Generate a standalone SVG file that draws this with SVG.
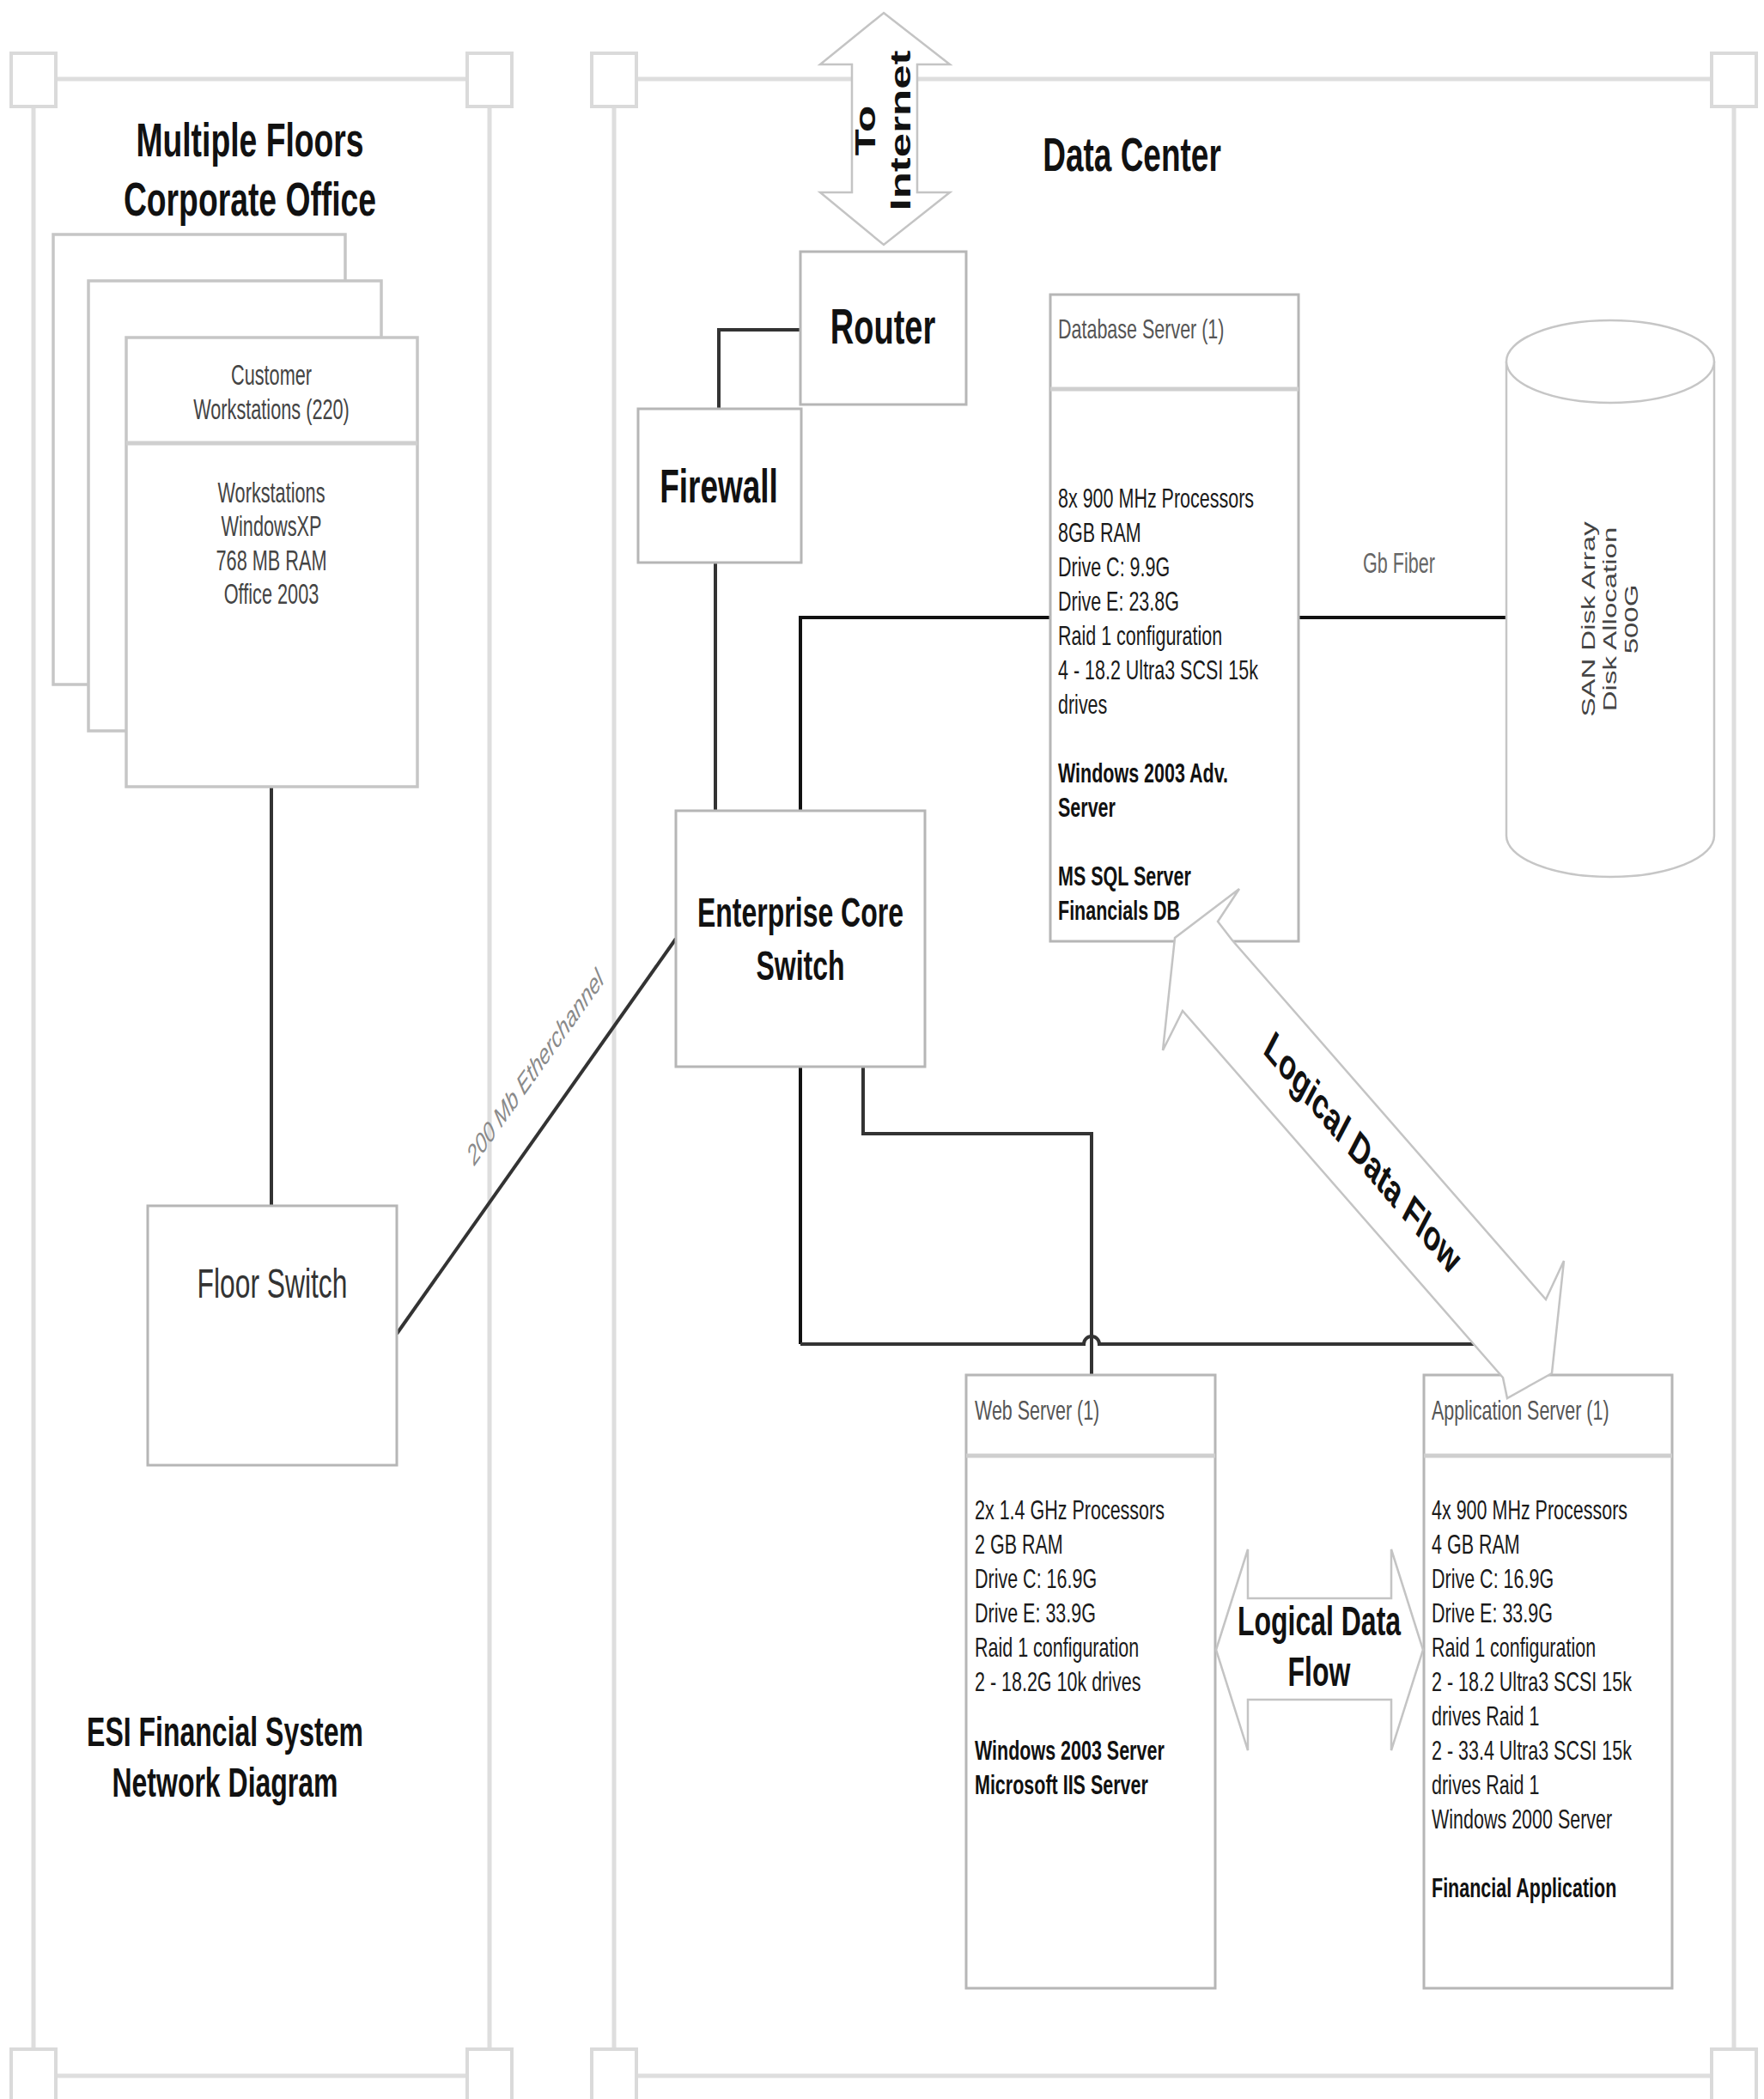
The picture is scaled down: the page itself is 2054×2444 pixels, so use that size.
<svg xmlns="http://www.w3.org/2000/svg" width="2054" height="2444" viewBox="0 0 2054 2444">
<defs>
<style>
.frame{fill:none;stroke:#dedede;stroke-width:5}
.corner{fill:#fff;stroke:#dadada;stroke-width:4}
.box{fill:#fff;stroke:#b6b6b6;stroke-width:3}
.page{fill:#fff;stroke:#c6c6c6;stroke-width:3.5}
.div{stroke:#cfcfcf;stroke-width:5}
.conn{fill:none;stroke:#333;stroke-width:4}
.dark{stroke:#111}
.blk{fill:#fff;stroke:#c4c4c4;stroke-width:2.5}
.cyl{fill:#fff;stroke:#c6c6c6;stroke-width:2.5}
text{font-family:"Liberation Sans",Arial,Helvetica,sans-serif}
.b{font-weight:bold}
.mid{text-anchor:middle}
.title{font-size:37.3px;font-weight:bold;fill:#111}
.big{font-weight:bold;fill:#111}
.srv{font-size:21.5px;fill:#1a1a1a}
.hdr{font-size:21.5px;fill:#555}
.ws{font-size:21.7px;fill:#444}
.lbl{font-size:21.6px;fill:#666}
</style>
</defs>

<g id="frames">
  <line class="frame" x1="39" y1="92" x2="570" y2="92"/>
  <line class="frame" x1="39" y1="2417" x2="570" y2="2417"/>
  <line class="frame" x1="39" y1="92" x2="39" y2="2417"/>
  <line class="frame" x1="570" y1="92" x2="570" y2="2417"/>
  <rect class="corner" x="13" y="62" width="52" height="62"/>
  <rect class="corner" x="544" y="62" width="52" height="62"/>
  <rect class="corner" x="13" y="2386" width="52" height="62"/>
  <rect class="corner" x="544" y="2386" width="52" height="62"/>
  <line class="frame" x1="715" y1="92" x2="2019" y2="92"/>
  <line class="frame" x1="715" y1="2417" x2="2019" y2="2417"/>
  <line class="frame" x1="715" y1="92" x2="715" y2="2417"/>
  <line class="frame" x1="2019" y1="92" x2="2019" y2="2417"/>
  <rect class="corner" x="689" y="62" width="52" height="62"/>
  <rect class="corner" x="1993" y="62" width="52" height="62"/>
  <rect class="corner" x="689" y="2386" width="52" height="62"/>
  <rect class="corner" x="1993" y="2386" width="52" height="62"/>
  <text class="title mid" transform="translate(291,182) scale(1,1.5)"><tspan x="0" y="0">Multiple Floors</tspan><tspan x="0" y="46.3">Corporate Office</tspan></text>
  <text class="big mid" font-size="37" transform="translate(1318,199) scale(1,1.5)">Data Center</text>
  <text class="big mid" font-size="32" fill="#222" transform="translate(262,2033) scale(1,1.5)"><tspan x="0" y="0">ESI Financial System</tspan><tspan x="0" y="39.3">Network Diagram</tspan></text>
</g>

<g id="connectors">
  <path class="conn" d="M316,916 V1404"/>
  <path class="conn" d="M462,1553 L787,1093"/>
  <text transform="translate(623,1242) scale(1,1.5) rotate(-43.3)" class="mid" font-size="22" font-style="italic" fill="#8a8a8a" y="7.7">200 Mb Etherchannel</text>
  <path class="conn" stroke="#777" d="M932,384 H837 V476"/>
  <path class="conn" stroke="#555" d="M833,655 V944"/>
  <path class="conn dark" d="M1223,719 H932 V944"/>
  <path class="conn dark" d="M1512,719 H1754"/>
  <text class="lbl mid" transform="translate(1629,667) scale(1,1.5)">Gb Fiber</text>
  <path class="conn dark" d="M932,1242 V1565"/>
  <path class="conn" stroke="#555" d="M932,1565 H1262 A9,9 0 0 1 1280,1565 H1730"/>
  <path class="conn" stroke="#555" d="M1005,1242 V1320 H1271 V1601"/>
</g>

<g id="node-workstations">
  <rect class="page" x="62" y="273" width="340" height="524"/>
  <rect class="page" x="103" y="327" width="341" height="524"/>
  <rect class="page" x="147" y="393" width="339" height="523"/>
  <line class="div" x1="147" y1="516" x2="486" y2="516"/>
  <text class="ws mid" transform="translate(316,448) scale(1,1.5)"><tspan x="0" y="0">Customer</tspan><tspan x="0" y="26.7">Workstations (220)</tspan></text>
  <text class="ws mid" transform="translate(316,585) scale(1,1.5)"><tspan x="0" y="0">Workstations</tspan><tspan x="0" y="26.2">WindowsXP</tspan><tspan x="0" y="52.4">768 MB RAM</tspan><tspan x="0" y="78.6">Office 2003</tspan></text>
</g>

<g id="node-floor-switch">
  <rect class="box" x="172" y="1404" width="290" height="302"/>
  <text class="mid" font-size="31.8" fill="#333" transform="translate(317,1511) scale(1,1.5)">Floor Switch</text>
</g>

<g id="node-router">
  <rect class="box" x="932" y="293" width="193" height="178"/>
  <text class="big mid" font-size="38" transform="translate(1028,400) scale(1,1.5)">Router</text>
</g>

<g id="node-firewall">
  <rect class="box" x="743" y="476" width="190" height="179"/>
  <text class="big mid" font-size="37" transform="translate(837,585) scale(1,1.5)">Firewall</text>
</g>

<g id="node-core-switch">
  <rect class="box" x="787" y="944" width="290" height="298"/>
  <text class="big mid" font-size="32" fill="#1a1a1a" transform="translate(932,1079) scale(1,1.5)"><tspan x="0" y="0">Enterprise Core</tspan><tspan x="0" y="41.3">Switch</tspan></text>
</g>

<g id="node-db-server">
  <rect class="box" x="1223" y="343" width="289" height="753"/>
  <line class="div" x1="1223" y1="453" x2="1512" y2="453"/>
  <text class="hdr" transform="translate(1232,394) scale(1,1.5)">Database Server (1)</text>
  <text class="srv" transform="translate(1232,591) scale(1,1.5)"><tspan x="0" y="0">8x 900 MHz Processors</tspan><tspan x="0" y="26.67">8GB RAM</tspan><tspan x="0" y="53.33">Drive C: 9.9G</tspan><tspan x="0" y="80">Drive E: 23.8G</tspan><tspan x="0" y="106.67">Raid 1 configuration</tspan><tspan x="0" y="133.33">4 - 18.2 Ultra3 SCSI 15k</tspan><tspan x="0" y="160">drives</tspan><tspan x="0" y="213.33" class="b" fill="#111">Windows 2003 Adv.</tspan><tspan x="0" y="240" class="b" fill="#111">Server</tspan><tspan x="0" y="293.33" class="b" fill="#111">MS SQL Server</tspan><tspan x="0" y="320" class="b" fill="#111">Financials DB</tspan></text>
</g>

<g id="node-san">
  <path class="cyl" d="M1754,421 V973 A121,48 0 0 0 1996,973 V421"/>
  <ellipse class="cyl" cx="1875" cy="421" rx="121" ry="48"/>
  <text class="mid" font-size="22" fill="#444" transform="translate(1875,721) scale(1,1.5) rotate(-90)"><tspan x="0" y="-18">SAN Disk Array</tspan><tspan x="0" y="7">Disk Allocation</tspan><tspan x="0" y="32">500G</tspan></text>
</g>

<g id="node-web-server">
  <rect class="box" x="1125" y="1601" width="290" height="714"/>
  <line class="div" x1="1125" y1="1695" x2="1415" y2="1695"/>
  <text class="hdr" transform="translate(1135,1653) scale(1,1.5)">Web Server (1)</text>
  <text class="srv" transform="translate(1135,1769) scale(1,1.5)"><tspan x="0" y="0">2x 1.4 GHz Processors</tspan><tspan x="0" y="26.67">2 GB RAM</tspan><tspan x="0" y="53.33">Drive C: 16.9G</tspan><tspan x="0" y="80">Drive E: 33.9G</tspan><tspan x="0" y="106.67">Raid 1 configuration</tspan><tspan x="0" y="133.33">2 - 18.2G 10k drives</tspan><tspan x="0" y="186.67" class="b" fill="#111">Windows 2003 Server</tspan><tspan x="0" y="213.33" class="b" fill="#111">Microsoft IIS Server</tspan></text>
</g>

<g id="node-app-server">
  <rect class="box" x="1658" y="1601" width="289" height="714"/>
  <line class="div" x1="1658" y1="1695" x2="1947" y2="1695"/>
  <text class="hdr" transform="translate(1667,1653) scale(1,1.5)">Application Server (1)</text>
  <text class="srv" transform="translate(1667,1769) scale(1,1.5)"><tspan x="0" y="0">4x 900 MHz Processors</tspan><tspan x="0" y="26.67">4 GB RAM</tspan><tspan x="0" y="53.33">Drive C: 16.9G</tspan><tspan x="0" y="80">Drive E: 33.9G</tspan><tspan x="0" y="106.67">Raid 1 configuration</tspan><tspan x="0" y="133.33">2 - 18.2 Ultra3 SCSI 15k</tspan><tspan x="0" y="160">drives Raid 1</tspan><tspan x="0" y="186.67">2 - 33.4 Ultra3 SCSI 15k</tspan><tspan x="0" y="213.33">drives Raid 1</tspan><tspan x="0" y="240">Windows 2000 Server</tspan><tspan x="0" y="293.33" class="b" fill="#111">Financial Application</tspan></text>
</g>

<g id="node-internet-arrow">
  <polygon class="blk" points="1029,15 1106,75 1068,75 1068,224 1106,224 1029,285 955,224 992,224 992,75 955,75"/>
  <text class="big mid" font-size="34" transform="translate(1029,152) scale(1,1.5) rotate(-90)"><tspan x="0" y="-10">To</tspan><tspan x="0" y="31">Internet</tspan></text>
</g>

<g id="node-dataflow-horizontal">
  <polygon class="blk" points="1416,1921 1453,1804 1453,1861 1620,1861 1620,1804 1657,1921 1620,2038 1620,1979 1453,1979 1453,2038"/>
  <text class="big mid" font-size="32" transform="translate(1536,1903.5) scale(1,1.5)"><tspan x="0" y="0">Logical Data</tspan><tspan x="0" y="39.7">Flow</tspan></text>
</g>

<g id="node-dataflow-diagonal">
  <polygon class="blk" points="1443,1035 1418,1073 1435,1095 1800,1513 1821,1468 1807,1599 1755,1628 1750,1604 1377,1177 1354,1223 1368,1092"/>
  <text class="big mid" font-size="33" fill="#1a1a1a" transform="translate(1587,1342) scale(1,1.5) rotate(38.3)" y="11.5">Logical Data Flow</text>
</g>
</svg>
